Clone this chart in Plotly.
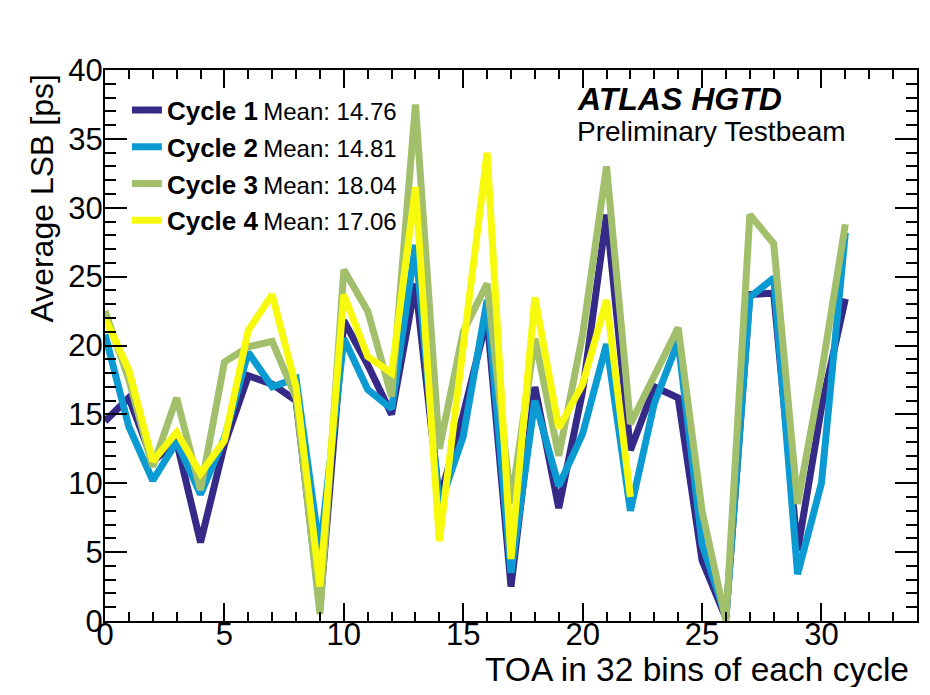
import plotly.graph_objects as go

# TOA bin index
bins = list(range(32))

# average LSB [ps] per bin
cycle1 = [14.5, 16.2, 11.6, 13.0, 5.7, 12.8, 17.8, 17.2, 16.0, 1.0,
          21.8, 18.6, 15.0, 24.5, 8.8, 15.0, 22.0, 2.5, 17.0, 8.2,
          16.7, 29.5, 12.4, 17.0, 16.2, 4.4, 0.2, 23.7, 23.8, 5.1, 15.5, 23.4]
cycle2 = [20.8, 14.1, 10.2, 13.0, 9.2, 13.3, 19.5, 17.0, 17.6, 5.0,
          20.5, 16.8, 15.4, 27.3, 8.3, 13.4, 23.3, 3.5, 16.0, 9.8,
          13.6, 20.1, 8.0, 15.8, 20.3, 5.6, 0.3, 23.5, 24.9, 3.4, 10.0, 28.2]
cycle3 = [22.5, 17.5, 11.2, 16.2, 9.5, 18.8, 19.9, 20.3, 16.2, 0.5,
          25.5, 22.5, 16.3, 37.5, 12.5, 21.0, 24.5, 8.5, 20.5, 12.0,
          20.8, 33.0, 14.3, 17.7, 21.3, 8.0, 0.0, 29.5, 27.4, 8.5, 18.0, 28.8]
cycle4 = [22.0, 18.2, 11.6, 13.7, 10.7, 13.1, 21.1, 23.7, 17.0, 2.5,
          23.7, 19.2, 18.0, 31.5, 5.8, 19.5, 34.0, 4.5, 23.5, 14.0,
          17.2, 23.3, 9.0]

names = ["Cycle 1", "Cycle 2", "Cycle 3", "Cycle 4"]
means = ["14.76", "14.81", "18.04", "17.06"]
colors = ["#352a87", "#0b9bd2", "#a2bf6c", "#f8fa0d"]

fig = go.Figure()
for i, ys in enumerate([cycle1, cycle2, cycle3, cycle4]):
    fig.add_trace(go.Scatter(
        x=bins[:len(ys)], y=ys, mode="lines",
        line=dict(color=colors[i], width=7),
        name="<b>" + names[i] + "</b>\u2009<span style='font-size:24px'>Mean: " + means[i] + "</span>",
        legendgroup=str(i),
    ))

axis_common = dict(
    showline=True, linecolor="black", linewidth=2, mirror="ticks",
    ticks="inside", tickcolor="black", tickwidth=1.5,
    showgrid=False, zeroline=False,
    tickfont=dict(size=31, color="black"),
)

fig.update_xaxes(range=[0, 34], tick0=0, dtick=5, ticklen=18, ticklabelstandoff=-15,
                 minor=dict(ticks="inside", dtick=1, ticklen=9, tickcolor="black"),
                 **axis_common)
fig.update_yaxes(range=[0, 40], tick0=0, dtick=5, ticklen=22, ticklabelstandoff=-6,
                 minor=dict(ticks="inside", dtick=1, ticklen=11, tickcolor="black"),
                 **axis_common)

# page body adds an 8px offset, so the figure is 16px smaller than the window
fig.add_annotation(text="Average LSB [ps]", xref="paper", yref="paper",
                   x=-0.078, y=0.766, xanchor="center", yanchor="middle",
                   textangle=-90, showarrow=False,
                   font=dict(size=32, color="black"))
fig.add_annotation(text="TOA in 32 bins of each cycle", xref="paper", yref="paper",
                   x=0.993, y=-0.088, xanchor="right", yanchor="middle", showarrow=False,
                   font=dict(size=33.5, color="black"))
fig.add_annotation(text="<b><i>ATLAS HGTD</i></b>", xref="paper", yref="paper",
                   x=0.579, y=0.947, xanchor="left", yanchor="middle", showarrow=False,
                   font=dict(size=32, color="black"))
fig.add_annotation(text="Preliminary Testbeam", xref="paper", yref="paper",
                   x=0.579, y=0.889, xanchor="left", yanchor="middle", showarrow=False,
                   font=dict(size=28, color="black"))

fig.update_layout(
    width=914, height=679,
    margin=dict(l=97, r=3, t=62, b=66),
    paper_bgcolor="white", plot_bgcolor="white",
    font=dict(family="Liberation Sans, Arial, sans-serif", color="black"),
    legend=dict(x=0.027, y=0.97, xanchor="left", yanchor="top",
                bgcolor="rgba(0,0,0,0)", font=dict(size=26, color="black"),
                tracegroupgap=0, itemwidth=30),
    showlegend=True,
)

fig.write_html("out.html")
